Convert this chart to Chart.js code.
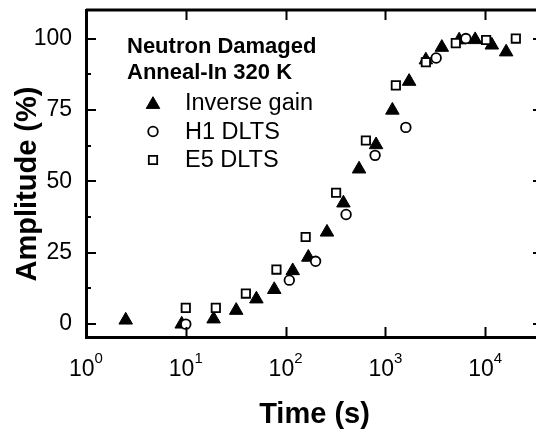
<!DOCTYPE html>
<html>
<head>
<meta charset="utf-8">
<script src="https://cdn.jsdelivr.net/npm/chart.js@4.4.1/dist/chart.umd.min.js"></script>
<style>
  html, body { margin: 0; padding: 0; background: #fff; overflow: hidden; }
  #wrap { width: 560px; height: 432px; }
</style>
</head>
<body>
<div id="wrap"><canvas id="chart" width="560" height="432"></canvas></div>
<script>
// Data
const gainTime = [2.5, 9.1, 19, 32, 51, 77, 118, 169, 260, 380, 545, 807, 1176, 1730, 2546, 3680, 5490, 7940, 11670, 16240];
const gainAmp  = [1.4, 0, 1.8, 4.8, 8.8, 12.1, 18.7, 23.4, 32.2, 42.4, 54.3, 62.8, 74.9, 85.0, 92.5, 96.9, 99.5, 99.6, 97.7, 95.3];
const h1Time = [10, 109, 200, 404, 789, 1604, 3230, 6410];
const h1Amp  = [0, 15.4, 22, 38.4, 59.1, 68.9, 93.2, 100];
const e5Time = [10, 20, 40, 81, 159, 321, 638, 1274, 2546, 5080, 10230, 20300];
const e5Amp  = [5.7, 5.7, 10.7, 19.1, 30.5, 46, 64.3, 83.6, 91.7, 98.4, 99.5, 100];

const seriesLabels = ['Inverse gain', 'H1 DLTS', 'E5 DLTS'];
const legendTitle = ['Neutron Damaged', 'Anneal-In 320 K'];
const xTickValues = [1, 10, 100, 1000, 10000];
const yTickValues = [0, 25, 50, 75, 100];
const yMinorValues = [12.5, 37.5, 62.5, 87.5];
const yTitle = 'Amplitude (%)';

const FONT = '"Liberation Sans", Arial, sans-serif';

function points(xs, ys) {
    return xs.map((x, i) => ({ x: x, y: ys[i] }));
}

// Inward ticks on all four sides, top/right frame, x labels with exponents, legend
const framePlugin = {
    id: 'frame',
    afterDatasetsDraw(chart) {
        const { ctx, chartArea: a, scales: { x, y } } = chart;
        ctx.save();
        ctx.strokeStyle = '#000';
        ctx.lineWidth = 3;
        ctx.beginPath();
        ctx.moveTo(a.left, a.top);
        ctx.lineTo(a.right, a.top);
        ctx.lineTo(a.right, a.bottom);
        ctx.stroke();

        ctx.lineWidth = 2;
        ctx.beginPath();
        xTickValues.forEach(v => {
            const px = Math.round(x.getPixelForValue(v)) + 0.5;
            ctx.moveTo(px, a.bottom); ctx.lineTo(px, a.bottom - 10);
            ctx.moveTo(px, a.top); ctx.lineTo(px, a.top + 10);
        });
        yTickValues.forEach(v => {
            const py = Math.round(y.getPixelForValue(v));
            ctx.moveTo(a.left, py); ctx.lineTo(a.left + 10, py);
            ctx.moveTo(a.right, py); ctx.lineTo(a.right - 10, py);
        });
        yMinorValues.forEach(v => {
            const py = Math.round(y.getPixelForValue(v));
            ctx.moveTo(a.left, py); ctx.lineTo(a.left + 5, py);
            ctx.moveTo(a.right, py); ctx.lineTo(a.right - 5, py);
        });
        ctx.stroke();
        ctx.restore();
    },
    afterDraw(chart) {
        const { ctx, scales: { x } } = chart;
        ctx.save();
        ctx.fillStyle = '#000';
        ctx.textAlign = 'left';
        ctx.textBaseline = 'alphabetic';

        // x tick labels: 10 with a raised exponent
        xTickValues.forEach(v => {
            const px = x.getPixelForValue(v);
            const exp = String(Math.round(Math.log10(v)));
            ctx.font = '23px ' + FONT;
            const w1 = ctx.measureText('10').width;
            ctx.font = '15px ' + FONT;
            const w2 = ctx.measureText(exp).width;
            const left = px - (w1 + w2) / 2;
            ctx.font = '23px ' + FONT;
            ctx.fillText('10', left, 376);
            ctx.font = '15px ' + FONT;
            ctx.fillText(exp, left + w1, 363);
        });

        // y axis title, a little below the plot centre as in the original
        ctx.save();
        ctx.translate(28, 184);
        ctx.rotate(-Math.PI / 2);
        ctx.textAlign = 'center';
        ctx.textBaseline = 'middle';
        ctx.font = 'bold 29px ' + FONT;
        ctx.fillText(yTitle, 0, 0);
        ctx.restore();

        // legend block inside the plot
        ctx.font = 'bold 22px ' + FONT;
        legendTitle.forEach((t, i) => ctx.fillText(t, 127, 53 + i * 26));

        ctx.font = '23.5px ' + FONT;
        ctx.textBaseline = 'middle';
        chart.data.datasets.forEach((ds, i) => {
            const yy = 103 + i * 28.5;
            ctx.fillStyle = ds.pointBackgroundColor;
            ctx.strokeStyle = ds.pointBorderColor;
            ctx.lineWidth = ds.pointBorderWidth;
            Chart.helpers.drawPoint(ctx, {
                pointStyle: ds.pointStyle,
                radius: ds.pointRadius,
                borderWidth: ds.pointBorderWidth,
                rotation: 0
            }, 153, ds.pointStyle === 'triangle' ? yy + 1.5 : yy);
            ctx.fillStyle = '#000';
            ctx.fillText(ds.label, 185, yy + 1);
        });
        ctx.restore();
    }
};

new Chart(document.getElementById('chart').getContext('2d'), {
    type: 'scatter',
    data: {
        datasets: [
            {
                label: seriesLabels[0],
                data: points(gainTime, gainAmp),
                pointStyle: 'triangle',
                pointRadius: 7.8,
                pointBorderWidth: 1,
                pointBackgroundColor: '#000',
                pointBorderColor: '#000',
                order: 2
            },
            {
                label: seriesLabels[1],
                data: points(h1Time, h1Amp),
                pointStyle: 'circle',
                pointRadius: 4.8,
                pointBorderWidth: 1.8,
                pointBackgroundColor: '#fff',
                pointBorderColor: '#000',
                order: 1
            },
            {
                label: seriesLabels[2],
                data: points(e5Time, e5Amp),
                pointStyle: 'rect',
                pointRadius: 5.9,
                pointBorderWidth: 1.8,
                pointBackgroundColor: '#fff',
                pointBorderColor: '#000',
                order: 0
            }
        ]
    },
    options: {
        responsive: false,
        animation: false,
        devicePixelRatio: 1,
        layout: { padding: { left: 0, top: 10, right: 17, bottom: 0 } },
        plugins: {
            legend: { display: false },
            tooltip: { enabled: false }
        },
        scales: {
            x: {
                type: 'logarithmic',
                min: 1,
                max: 38000,
                afterFit(scale) {
                    scale.height = 95;
                    scale.paddingLeft = 0;
                    scale.paddingRight = 0;
                },
                grid: { display: false, drawTicks: false },
                border: { display: true, color: '#000', width: 3 },
                ticks: { display: false },
                title: {
                    display: true,
                    text: 'Time (s)',
                    color: '#000',
                    font: { family: FONT, size: 29, weight: 'bold' },
                    padding: { top: 0, bottom: 0 }
                }
            },
            y: {
                min: -4.5,
                max: 110,
                afterFit(scale) {
                    scale.width = 86;
                    scale.paddingTop = 0;
                    scale.paddingBottom = 0;
                },
                afterBuildTicks(scale) { scale.ticks = yTickValues.map(v => ({ value: v })); },
                grid: { display: false, drawTicks: false },
                border: { display: true, color: '#000', width: 3 },
                ticks: {
                    color: '#000',
                    padding: 14,
                    font: { family: FONT, size: 23 }
                },
                title: { display: false }
            }
        }
    },
    plugins: [framePlugin]
});
</script>
</body>
</html>
